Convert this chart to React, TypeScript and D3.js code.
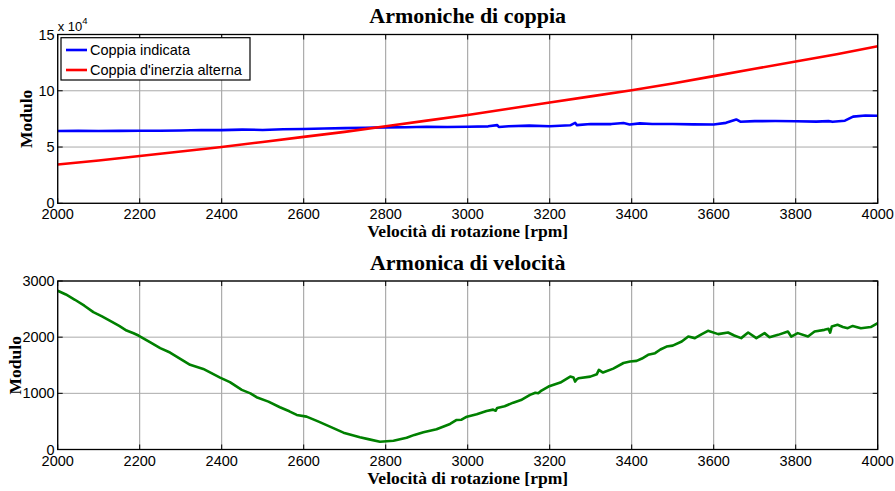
import React from 'react';
import * as d3 from 'd3';

// ---------- data ----------
const xTicks = [2000, 2200, 2400, 2600, 2800, 3000, 3200, 3400, 3600, 3800, 4000];
const topYTicks = [0, 50000, 100000, 150000];
const bottomYTicks = [0, 1000, 2000, 3000];

const topTitle = 'Armoniche di coppia';
const bottomTitle = 'Armonica di velocità';
const xLabel = 'Velocità di rotazione [rpm]';
const yLabel = 'Modulo';
const legendLabels = ['Coppia indicata', "Coppia d'inerzia alterna"];

const blueRpm = [2000, 2050, 2100, 2150, 2200, 2250, 2300, 2350, 2400, 2450, 2500, 2550, 2600, 2650, 2700, 2750, 2800, 2850, 2900, 2950, 3000, 3050, 3072, 3076, 3100, 3150, 3200, 3250, 3262, 3266, 3300, 3350, 3380, 3395, 3420, 3450, 3500, 3550, 3600, 3630, 3655, 3665, 3700, 3750, 3800, 3850, 3880, 3890, 3920, 3940, 3970, 4000];
const blueVal = [64200, 64500, 64300, 64400, 64500, 64500, 64700, 65200, 65000, 65500, 65200, 65800, 66000, 66500, 66800, 67200, 67500, 67600, 68000, 67800, 68000, 68400, 69500, 67800, 68500, 69000, 68500, 69300, 71500, 69500, 70500, 70400, 71300, 70000, 71000, 70500, 70500, 70100, 70000, 71500, 74500, 72500, 73000, 73100, 72900, 72600, 73000, 72400, 73400, 77000, 78000, 77800];

const redRpm = [2000, 2100, 2200, 2300, 2400, 2500, 2600, 2700, 2800, 2900, 3000, 3100, 3200, 3300, 3400, 3500, 3600, 3700, 3800, 3900, 4000];
const redVal = [34500, 38000, 42000, 46000, 50000, 54500, 59000, 63500, 68500, 73500, 78500, 84000, 89500, 95000, 100500, 106500, 113000, 119500, 126000, 132500, 139500];

const greenRpm = [2000, 2020, 2042, 2065, 2087, 2108, 2128, 2150, 2168, 2185, 2197, 2225, 2250, 2274, 2300, 2323, 2355, 2375, 2396, 2420, 2449, 2470, 2485, 2514, 2542, 2565, 2583, 2607, 2635, 2664, 2697, 2737, 2760, 2786, 2819, 2851, 2870, 2892, 2924, 2957, 2973, 2985, 2998, 3022, 3046, 3062, 3068, 3072, 3090, 3111, 3130, 3152, 3165, 3172, 3180, 3197, 3226, 3250, 3258, 3262, 3266, 3270, 3299, 3315, 3320, 3330, 3355, 3380, 3396, 3412, 3425, 3440, 3457, 3470, 3485, 3500, 3522, 3538, 3554, 3570, 3586, 3611, 3635, 3650, 3667, 3684, 3704, 3724, 3736, 3757, 3781, 3789, 3805, 3830, 3846, 3870, 3880, 3884, 3888, 3902, 3915, 3927, 3939, 3959, 3983, 4000];
const greenVal = [2826, 2760, 2666, 2560, 2446, 2370, 2291, 2200, 2118, 2070, 2029, 1910, 1804, 1726, 1610, 1507, 1435, 1360, 1280, 1200, 1061, 1000, 931, 852, 752, 680, 615, 585, 500, 407, 300, 217, 180, 139, 157, 210, 260, 307, 360, 455, 526, 530, 585, 628, 686, 710, 690, 740, 770, 834, 880, 972, 1010, 1002, 1050, 1120, 1191, 1298, 1280, 1209, 1250, 1269, 1298, 1341, 1417, 1370, 1440, 1540, 1566, 1578, 1620, 1685, 1715, 1780, 1833, 1850, 1922, 2011, 1983, 2050, 2113, 2054, 2083, 2030, 1983, 2083, 1983, 2072, 2000, 2041, 2100, 2011, 2072, 2011, 2100, 2130, 2150, 2080, 2190, 2220, 2180, 2160, 2200, 2160, 2180, 2250];

// ---------- layout ----------
const W = 895;
const H = 491;
const L = 57.7;
const R = 877.7;
const serif = '"Liberation Serif", "Times New Roman", serif';
const sans = '"Liberation Sans", Arial, sans-serif';

type Series = { rpm: number[]; val: number[]; color: string };

function Panel(props: {
  top: number;
  bottom: number;
  yMax: number;
  yTicks: number[];
  yFmt: (v: number) => string;
  series: Series[];
  title: string;
  titleY: number;
  yLabelX: number;
  children?: React.ReactNode;
}) {
  const { top, bottom, yMax, yTicks, yFmt, series, title, titleY, yLabelX } = props;
  const x = d3.scaleLinear().domain([2000, 4000]).range([L, R]);
  const y = d3.scaleLinear().domain([0, yMax]).range([bottom, top]);
  const tl = 5;
  const clipId = 'clip' + Math.round(top);
  return (
    <g>
      <defs>
        <clipPath id={clipId}>
          <rect x={L} y={top} width={R - L} height={bottom - top} />
        </clipPath>
      </defs>
      {/* grid */}
      {xTicks.map((t) => (
        <line key={'gx' + t} x1={x(t)} x2={x(t)} y1={top} y2={bottom} stroke="#9a9a9a" strokeWidth={1} />
      ))}
      {yTicks.map((t) => (
        <line key={'gy' + t} x1={L} x2={R} y1={y(t)} y2={y(t)} stroke="#aaaaaa" strokeWidth={1} />
      ))}
      {/* ticks */}
      {xTicks.map((t) => (
        <g key={'tx' + t}>
          <line x1={x(t)} x2={x(t)} y1={bottom} y2={bottom - tl} stroke="#000" />
          <line x1={x(t)} x2={x(t)} y1={top} y2={top + tl} stroke="#000" />
          <text x={x(t)} y={bottom + 11} textAnchor="middle" dominantBaseline="central" fontFamily={sans} fontSize={14.5} fill="#000">
            {t}
          </text>
        </g>
      ))}
      {yTicks.map((t) => (
        <g key={'ty' + t}>
          <line x1={L} x2={L + tl} y1={y(t)} y2={y(t)} stroke="#000" />
          <line x1={R} x2={R - tl} y1={y(t)} y2={y(t)} stroke="#000" />
          <text x={L - 3} y={y(t)} textAnchor="end" dominantBaseline="central" fontFamily={sans} fontSize={14.5} fill="#000">
            {yFmt(t)}
          </text>
        </g>
      ))}
      {/* data */}
      <g clipPath={`url(#${clipId})`}>
        {series.map((s, i) => {
          const pts: [number, number][] = s.rpm.map((r, k) => [r, s.val[k]]);
          const line = d3
            .line<[number, number]>()
            .x((d) => x(d[0]))
            .y((d) => y(d[1]));
          return <path key={i} d={line(pts) || ''} fill="none" stroke={s.color} strokeWidth={2.6} strokeLinejoin="round" />;
        })}
      </g>
      {/* frame */}
      <rect x={L} y={top} width={R - L} height={bottom - top} fill="none" stroke="#000" strokeWidth={1.3} />
      {/* labels */}
      <text x={(L + R) / 2} y={titleY} textAnchor="middle" dominantBaseline="central" fontFamily={serif} fontWeight="bold" fontSize={22} fill="#000">
        {title}
      </text>
      <text x={(L + R) / 2} y={bottom + 28} textAnchor="middle" dominantBaseline="central" fontFamily={serif} fontWeight="bold" fontSize={17.5} fill="#000">
        {xLabel}
      </text>
      <text
        transform={`translate(${yLabelX},${(top + bottom) / 2}) rotate(-90)`}
        textAnchor="middle"
        dominantBaseline="central"
        fontFamily={serif}
        fontWeight="bold"
        fontSize={17.5}
        fill="#000"
      >
        {yLabel}
      </text>
      {props.children}
    </g>
  );
}

export default function App() {
  const topY0 = 34.5;
  const topY1 = 203.3;
  const legendColors = ['#0000ff', '#ff0000'];
  return (
    <svg width={W} height={H} style={{ position: 'absolute', left: 0, top: 0, background: '#fff' }}>
      <rect x={0} y={0} width={W} height={H} fill="#fff" />
      <Panel
        top={topY0}
        bottom={topY1}
        yMax={150000}
        yTicks={topYTicks}
        yFmt={(v) => String(v / 10000)}
        series={[
          { rpm: blueRpm, val: blueVal, color: '#0000ff' },
          { rpm: redRpm, val: redVal, color: '#ff0000' },
        ]}
        title={topTitle}
        titleY={15}
        yLabelX={26}
      >
        <text x={L} y={31} fontFamily={sans} fontSize={13} fill="#000">
          x 10
          <tspan dy={-7} fontSize={9.5}>
            4
          </tspan>
        </text>
        <rect x={61} y={37.7} width={189} height={42.3} fill="#fff" stroke="#000" strokeWidth={1.2} />
        {legendLabels.map((lab, i) => (
          <g key={lab}>
            <line x1={66} x2={87} y1={50 + i * 20} y2={50 + i * 20} stroke={legendColors[i]} strokeWidth={2.6} />
            <text x={90} y={50 + i * 20} dominantBaseline="central" fontFamily={sans} fontSize={14.5} fill="#000">
              {lab}
            </text>
          </g>
        ))}
      </Panel>
      <Panel
        top={281}
        bottom={449.5}
        yMax={3000}
        yTicks={bottomYTicks}
        yFmt={(v) => String(v)}
        series={[{ rpm: greenRpm, val: greenVal, color: '#008000' }]}
        title={bottomTitle}
        titleY={262}
        yLabelX={15}
      />
    </svg>
  );
}
